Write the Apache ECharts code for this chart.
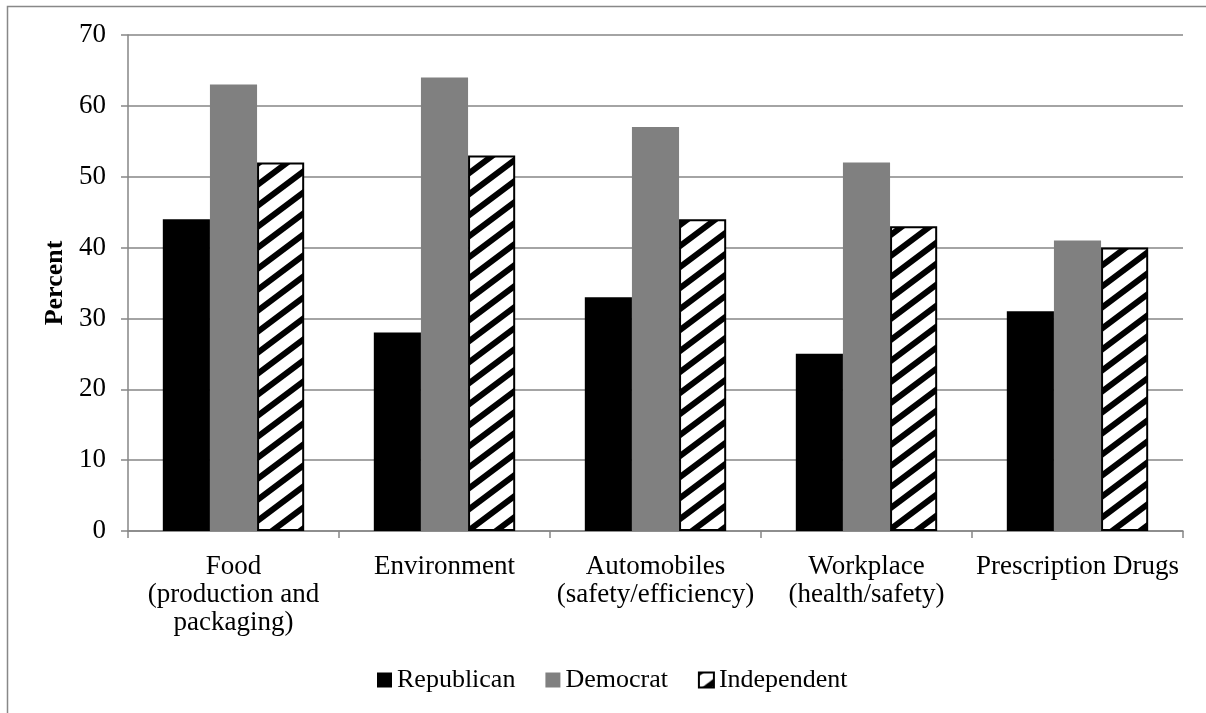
<!DOCTYPE html>
<html>
<head>
<meta charset="utf-8">
<script src="https://cdn.jsdelivr.net/npm/echarts@6/dist/echarts.min.js"></script>
<style>
  html, body { margin: 0; padding: 0; background: #fff; }
  #chart { width: 1206px; height: 713px; }
</style>
</head>
<body>
<div id="chart"></div>
<script>
// Share of respondents by party, per regulated area
const categories = [
  'Food\n(production and\npackaging)',
  'Environment',
  'Automobiles\n(safety/efficiency)',
  'Workplace\n(health/safety)',
  'Prescription Drugs'
];
const republican = [44, 28, 33, 25, 31];
const democrat = [63, 64, 57, 52, 41];
const independent = [52, 53, 44, 43, 40];
const yTicks = [0, 10, 20, 30, 40, 50, 60, 70];

// Upward-diagonal black-on-white hatch tile for the Independent bars
function hatchTile() {
  const w = 28, h = 21;
  const c = document.createElement('canvas');
  c.width = w; c.height = h;
  const g = c.getContext('2d');
  g.fillStyle = '#fff';
  g.fillRect(0, 0, w, h);
  g.strokeStyle = '#000';
  g.lineWidth = 6;
  g.beginPath();
  for (let k = -1; k <= 1; k++) {
    // line y = h - (h / w) * x + k * h, extended past the tile edges
    g.moveTo(-w, 2 * h + k * h);
    g.lineTo(2 * w, -h + k * h);
  }
  g.stroke();
  return c;
}
const hatch = { image: hatchTile(), repeat: 'repeat' };

const font = '"Liberation Serif", "Times New Roman", serif';
const axisGrey = '#868686';
const fs = 27;

const chart = echarts.init(document.getElementById('chart'), null, { renderer: 'canvas' });
chart.setOption({
  backgroundColor: '#fff',
  animation: false,
  textStyle: { fontFamily: font, color: '#000' },
  graphic: [{
    type: 'rect',
    shape: { x: 7.5, y: 6.5, width: 1230, height: 740 },
    style: { fill: 'none', stroke: '#888', lineWidth: 1.5 },
    silent: true
  }],
  grid: { left: 128, right: 23, top: 35, bottom: 182 },
  legend: {
    left: 372,
    top: 662,
    itemWidth: 15,
    itemHeight: 15,
    itemGap: 30,
    icon: 'rect',
    textStyle: { fontFamily: font, fontSize: 26, color: '#000' },
    data: ['Republican', 'Democrat', 'Independent']
  },
  xAxis: {
    type: 'category',
    data: categories,
    axisLine: { lineStyle: { color: axisGrey, width: 1.5 } },
    axisTick: { show: true, alignWithLabel: false, length: 7, lineStyle: { color: axisGrey, width: 1.5 } },
    axisLabel: { fontFamily: font, fontSize: fs, color: '#000', lineHeight: 28, margin: 22, interval: 0 }
  },
  yAxis: {
    type: 'value',
    min: yTicks[0],
    max: yTicks[yTicks.length - 1],
    interval: 10,
    name: 'Percent',
    nameLocation: 'middle',
    nameGap: 57,
    nameTextStyle: { fontFamily: font, fontSize: 26, fontWeight: 'bold', color: '#000' },
    axisLine: { show: true, lineStyle: { color: axisGrey, width: 1.5 } },
    axisTick: { show: true, length: 7, lineStyle: { color: axisGrey, width: 1.5 } },
    axisLabel: { fontFamily: font, fontSize: fs, color: '#000', margin: 22 },
    splitLine: { lineStyle: { color: axisGrey, width: 1.5 } }
  },
  series: [
    {
      name: 'Republican', type: 'bar', data: republican,
      barGap: '0%', barCategoryGap: '33%',
      itemStyle: { color: '#000' }
    },
    {
      name: 'Democrat', type: 'bar', data: democrat,
      barGap: '0%', barCategoryGap: '33%',
      itemStyle: { color: '#808080' }
    },
    {
      name: 'Independent', type: 'bar', data: independent,
      barGap: '0%', barCategoryGap: '33%',
      itemStyle: { color: hatch, borderColor: '#000', borderWidth: 2 }
    }
  ]
});
</script>
</body>
</html>
